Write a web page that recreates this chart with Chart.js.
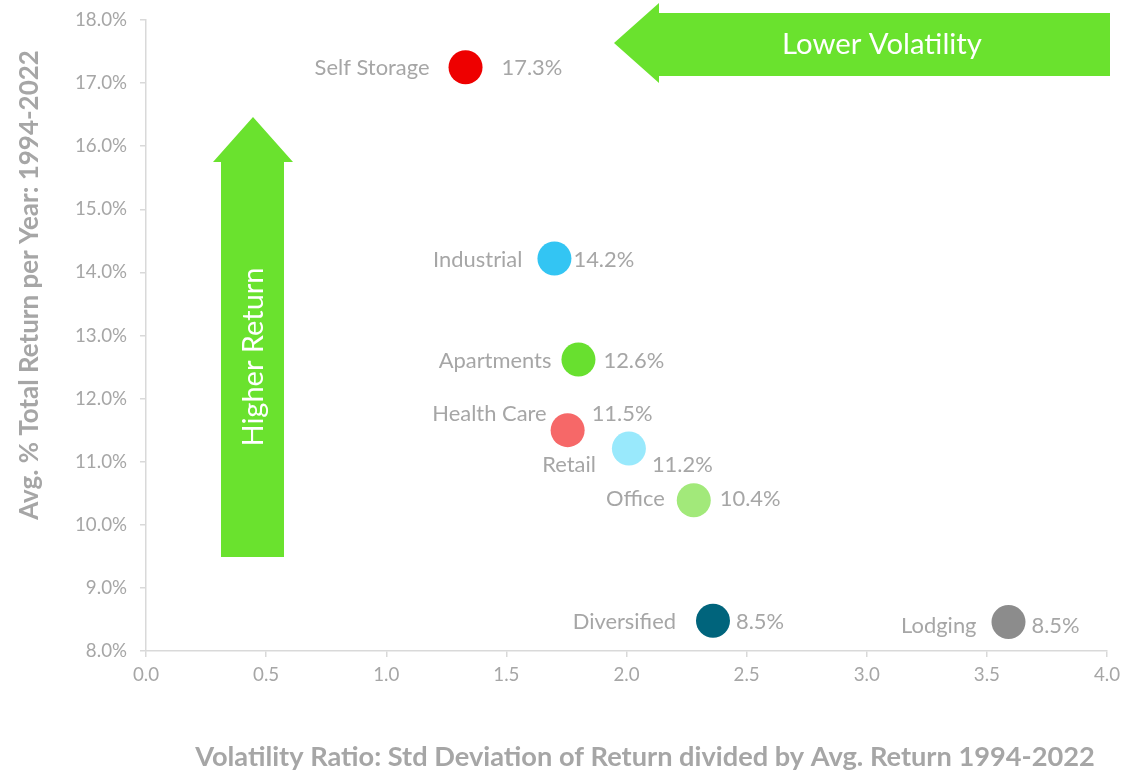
<!DOCTYPE html>
<html>
<head>
<meta charset="utf-8">
<script src="https://cdn.jsdelivr.net/npm/chart.js@4.4.1/dist/chart.umd.min.js"></script>
<style>
  html, body { margin: 0; padding: 0; background: #ffffff; }
  #wrap { width: 1124px; height: 774px; position: relative; }
</style>
</head>
<body>
<div id="wrap"><canvas id="c" width="1124" height="774"></canvas></div>
<script>
// ---- Data ----
const sectors    = ['Self Storage', 'Industrial', 'Apartments', 'Health Care', 'Retail', 'Office', 'Diversified', 'Lodging'];
const volatility = [1.33, 1.70, 1.80, 1.755, 2.01, 2.28, 2.36, 3.59];
const avgReturn  = [17.25, 14.22, 12.62, 11.50, 11.21, 10.39, 8.48, 8.46];
const xTickStep = 0.5;
const yTickStep = 1;
const xTitle = 'Volatility Ratio: Std Deviation of Return divided by Avg. Return 1994-2022';
const yTitle = 'Avg. % Total Return per Year: 1994-2022';
const arrowUpText = 'Higher Return';
const arrowLeftText = 'Lower Volatility';

// ---- Styles ----
const pointColors = ['#ee0000', '#33c5f3', '#68e02f', '#f66868', '#99e9fc', '#a2e97a', '#00647c', '#8c8c8c'];
// [name right-edge dx, value left-edge dx, dy]
const labelLayout = [
  [-36, 36, 1], [-32, 19, 1], [-27, 25, 1], [-21, 24, -16],
  [-33, 23, 16], [-29, 26, -1], [-37, 23, 1], [-32, 23, 4]
];
const GRAY = '#a6a6a6';
const AXIS = '#d9d9d9';
const GREEN = '#6ae22e';
const FONT = 'Lato, "Open Sans", sans-serif';

function fitFont(ctx, text, width, weight) {
  ctx.font = weight + ' 20px ' + FONT;
  const w = ctx.measureText(text).width;
  return 20 * width / w;
}
const measureCtx = document.createElement('canvas').getContext('2d');
const tickSize = fitFont(measureCtx, '18.0%', 52, 'normal');

const decor = {
  id: 'decor',
  beforeDatasetsDraw(chart) {
    const ctx = chart.ctx;
    ctx.save();
    ctx.fillStyle = GREEN;
    // up arrow
    ctx.beginPath();
    ctx.moveTo(253, 117); ctx.lineTo(293, 162); ctx.lineTo(284, 162);
    ctx.lineTo(284, 557); ctx.lineTo(221, 557); ctx.lineTo(221, 162);
    ctx.lineTo(213, 162); ctx.closePath(); ctx.fill();
    // left arrow
    ctx.beginPath();
    ctx.moveTo(614, 43); ctx.lineTo(659, 3); ctx.lineTo(659, 13);
    ctx.lineTo(1110, 13); ctx.lineTo(1110, 76); ctx.lineTo(659, 76);
    ctx.lineTo(659, 83); ctx.closePath(); ctx.fill();
    ctx.fillStyle = '#ffffff';
    ctx.textAlign = 'center'; ctx.textBaseline = 'middle';
    let s = fitFont(ctx, arrowLeftText, 200, 'normal');
    ctx.font = 'normal ' + s + 'px ' + FONT;
    ctx.fillText(arrowLeftText, 882, 45);
    s = fitFont(ctx, arrowUpText, 179, 'normal');
    ctx.font = 'normal ' + s + 'px ' + FONT;
    ctx.translate(254, 357); ctx.rotate(-Math.PI / 2);
    ctx.fillText(arrowUpText, 0, 0);
    ctx.restore();
  },
  afterDatasetsDraw(chart) {
    const ctx = chart.ctx;
    const meta = chart.getDatasetMeta(0);
    ctx.save();
    ctx.fillStyle = GRAY;
    ctx.textBaseline = 'middle';
    const s = fitFont(ctx, 'Self Storage', 115, 'normal');
    ctx.font = 'normal ' + s + 'px ' + FONT;
    meta.data.forEach((pt, i) => {
      const L = labelLayout[i];
      ctx.textAlign = 'right';
      ctx.fillText(sectors[i], pt.x + L[0], pt.y + L[2]);
      ctx.textAlign = 'left';
      ctx.fillText(avgReturn[i].toFixed(1) + '%', pt.x + L[1], pt.y + L[2]);
    });
    ctx.restore();
  },
  afterDraw(chart) {
    const ctx = chart.ctx;
    ctx.save();
    ctx.fillStyle = GRAY;
    ctx.textAlign = 'center'; ctx.textBaseline = 'middle';
    let s = fitFont(ctx, xTitle, 900, 'bold');
    ctx.font = 'bold ' + s + 'px ' + FONT;
    ctx.fillText(xTitle, 645, 757);
    s = fitFont(ctx, yTitle, 470, 'bold');
    ctx.font = 'bold ' + s + 'px ' + FONT;
    ctx.translate(30, 285); ctx.rotate(-Math.PI / 2);
    ctx.fillText(yTitle, 0, 0);
    ctx.restore();
  }
};

new Chart(document.getElementById('c'), {
  type: 'scatter',
  data: {
    datasets: [{
      data: sectors.map((n, i) => ({ x: volatility[i], y: avgReturn[i] })),
      backgroundColor: pointColors,
      borderWidth: 0,
      pointRadius: 17,
      pointHoverRadius: 17
    }]
  },
  options: {
    responsive: false,
    animation: false,
    events: [],
    layout: { padding: { left: 0, top: 20, right: 17, bottom: 0 } },
    plugins: { legend: { display: false }, tooltip: { enabled: false } },
    scales: {
      x: {
        type: 'linear', min: 0, max: 4,
        afterFit(scale) { scale.height = 123; scale.paddingLeft = 0; scale.paddingRight = 0; },
        ticks: { stepSize: xTickStep, color: GRAY, padding: 7,
          font: { family: FONT, size: tickSize },
          callback: v => Number(v).toFixed(1) },
        grid: { drawOnChartArea: false, drawTicks: true, tickLength: 6, color: AXIS, lineWidth: 1.5 },
        border: { color: AXIS, width: 1.5 }
      },
      y: {
        min: 8, max: 18,
        afterFit(scale) { scale.width = 146; scale.paddingTop = 0; scale.paddingBottom = 0; },
        ticks: { stepSize: yTickStep, color: GRAY, padding: 13,
          font: { family: FONT, size: tickSize },
          callback: v => Number(v).toFixed(1) + '%' },
        grid: { drawOnChartArea: false, drawTicks: true, tickLength: 6, color: AXIS, lineWidth: 1.5 },
        border: { color: AXIS, width: 1.5 }
      }
    }
  },
  plugins: [decor]
});
</script>
</body>
</html>
